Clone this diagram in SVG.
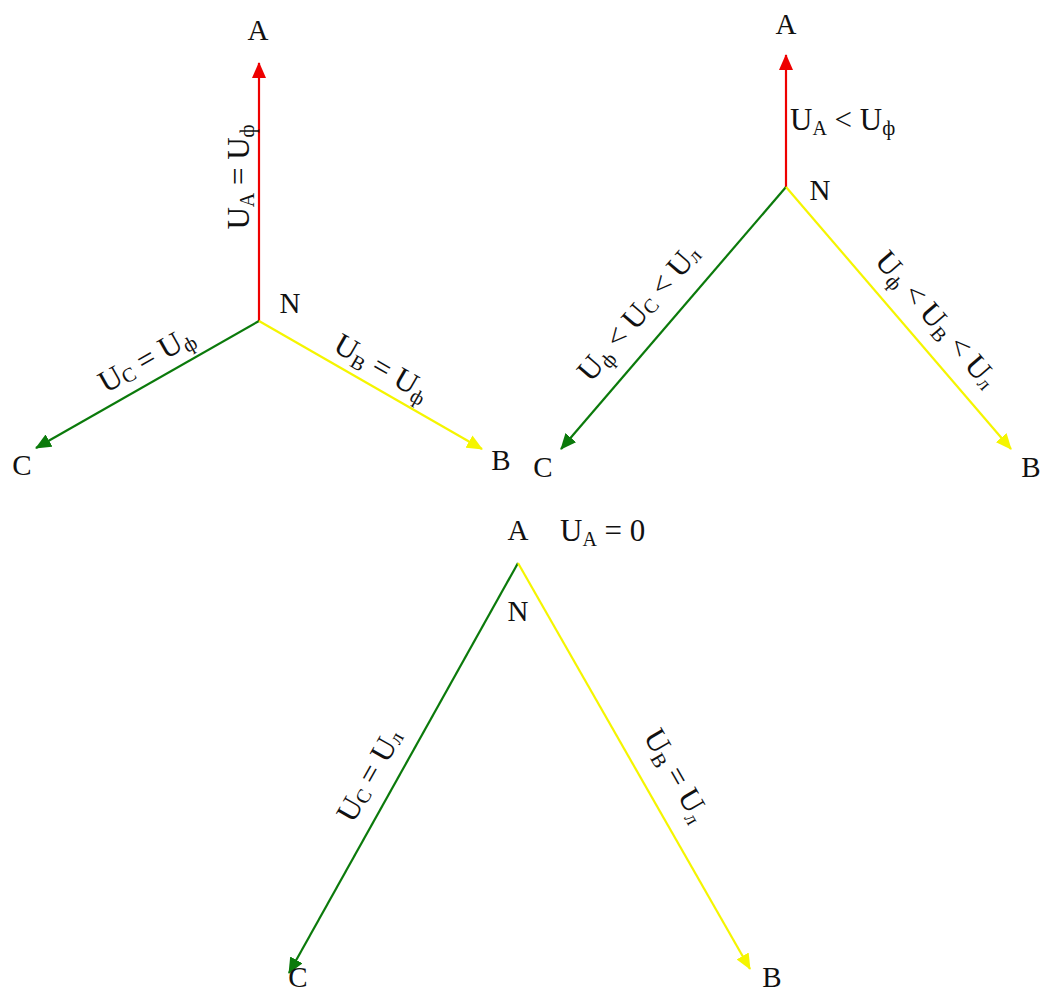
<svg xmlns="http://www.w3.org/2000/svg" width="1040" height="993" viewBox="0 0 1040 993">
<style>
text{font-family:"Liberation Serif","Times New Roman",serif;fill:#111;font-size:29px}
.lbl{font-size:31px}
.s{font-size:20px}
.r{stroke:#ee0000;stroke-width:2.2;fill:none}
.g{stroke:#0b7a0b;stroke-width:2.2;fill:none}
.y{stroke:#f5f500;stroke-width:2.2;fill:none}
</style>
<defs>
<marker id="ar" viewBox="0 0 16 14" refX="15" refY="7" markerWidth="16" markerHeight="14" markerUnits="userSpaceOnUse" orient="auto"><path d="M0,0 L16,7 L0,14 z" fill="#ee0000"/></marker>
<marker id="ag" viewBox="0 0 16 14" refX="15" refY="7" markerWidth="16" markerHeight="14" markerUnits="userSpaceOnUse" orient="auto"><path d="M0,0 L16,7 L0,14 z" fill="#0b7a0b"/></marker>
<marker id="ay" viewBox="0 0 16 14" refX="15" refY="7" markerWidth="16" markerHeight="14" markerUnits="userSpaceOnUse" orient="auto"><path d="M0,0 L16,7 L0,14 z" fill="#f5f500"/></marker>
</defs>
<rect width="1040" height="993" fill="#fff"/>
<g id="connectors">
<line class="r" x1="259" y1="321" x2="259" y2="63" marker-end="url(#ar)"/>
<line class="g" x1="259" y1="321" x2="36" y2="448" marker-end="url(#ag)"/>
<line class="y" x1="259" y1="321" x2="482" y2="449" marker-end="url(#ay)"/>
<line class="r" x1="786" y1="187" x2="786" y2="55" marker-end="url(#ar)"/>
<line class="g" x1="786" y1="187" x2="561" y2="449" marker-end="url(#ag)"/>
<line class="y" x1="786" y1="187" x2="1011" y2="449" marker-end="url(#ay)"/>
<line class="g" x1="518" y1="563" x2="289" y2="973" marker-end="url(#ag)"/>
<line class="y" x1="518" y1="563" x2="750" y2="969" marker-end="url(#ay)"/>
</g>
<g id="diagram1">
<text x="258" y="40" text-anchor="middle">A</text>
<text x="290" y="313" text-anchor="middle">N</text>
<text x="22" y="475" text-anchor="middle">C</text>
<text x="501" y="470" text-anchor="middle">B</text>
<text class="lbl" transform="translate(249,177) rotate(-90)" text-anchor="middle">U<tspan class="s" dy="5">A</tspan><tspan dy="-5"> = U</tspan><tspan class="s" dy="5">ф</tspan></text>
<text class="lbl" transform="translate(151,368) rotate(-29.5)" text-anchor="middle">U<tspan class="s" dy="2">C</tspan><tspan dy="-2"> = U</tspan><tspan class="s" dy="5">ф</tspan></text>
<text class="lbl" transform="translate(377,376) rotate(29.8)" text-anchor="middle">U<tspan class="s" dy="5">B</tspan><tspan dy="-5"> = U</tspan><tspan class="s" dy="5">ф</tspan></text>
</g>
<g id="diagram2">
<text x="786" y="34" text-anchor="middle">A</text>
<text x="820" y="200" text-anchor="middle">N</text>
<text x="543" y="477" text-anchor="middle">C</text>
<text x="1031" y="477" text-anchor="middle">B</text>
<text class="lbl" x="790" y="130">U<tspan class="s" dy="5">A</tspan><tspan dy="-5"> &lt; U</tspan><tspan class="s" dy="5">ф</tspan></text>
<text class="lbl" transform="translate(646,319) rotate(-49.3)" text-anchor="middle">U<tspan class="s" dy="5">ф</tspan><tspan dy="-5"> &lt; U</tspan><tspan class="s" dy="2">C</tspan><tspan dy="-2"> &lt; U</tspan><tspan class="s" dy="2">л</tspan></text>
<text class="lbl" transform="translate(929,326) rotate(49.3)" text-anchor="middle">U<tspan class="s" dy="5">ф</tspan><tspan dy="-5"> &lt; U</tspan><tspan class="s" dy="5">B</tspan><tspan dy="-5"> &lt; U</tspan><tspan class="s" dy="2">л</tspan></text>
</g>
<g id="diagram3">
<text x="518" y="540" text-anchor="middle">A</text>
<text x="518" y="621" text-anchor="middle">N</text>
<text x="298" y="987" text-anchor="middle">C</text>
<text x="772" y="987" text-anchor="middle">B</text>
<text class="lbl" x="560" y="541">U<tspan class="s" dy="5">A</tspan><tspan dy="-5"> = 0</tspan></text>
<text class="lbl" transform="translate(378,780) rotate(-60.7)" text-anchor="middle">U<tspan class="s" dy="2">C</tspan><tspan dy="-2"> = U</tspan><tspan class="s" dy="2">л</tspan></text>
<text class="lbl" transform="translate(668,780) rotate(60.2)" text-anchor="middle">U<tspan class="s" dy="5">B</tspan><tspan dy="-5"> = U</tspan><tspan class="s" dy="5">л</tspan></text>
</g>
</svg>
